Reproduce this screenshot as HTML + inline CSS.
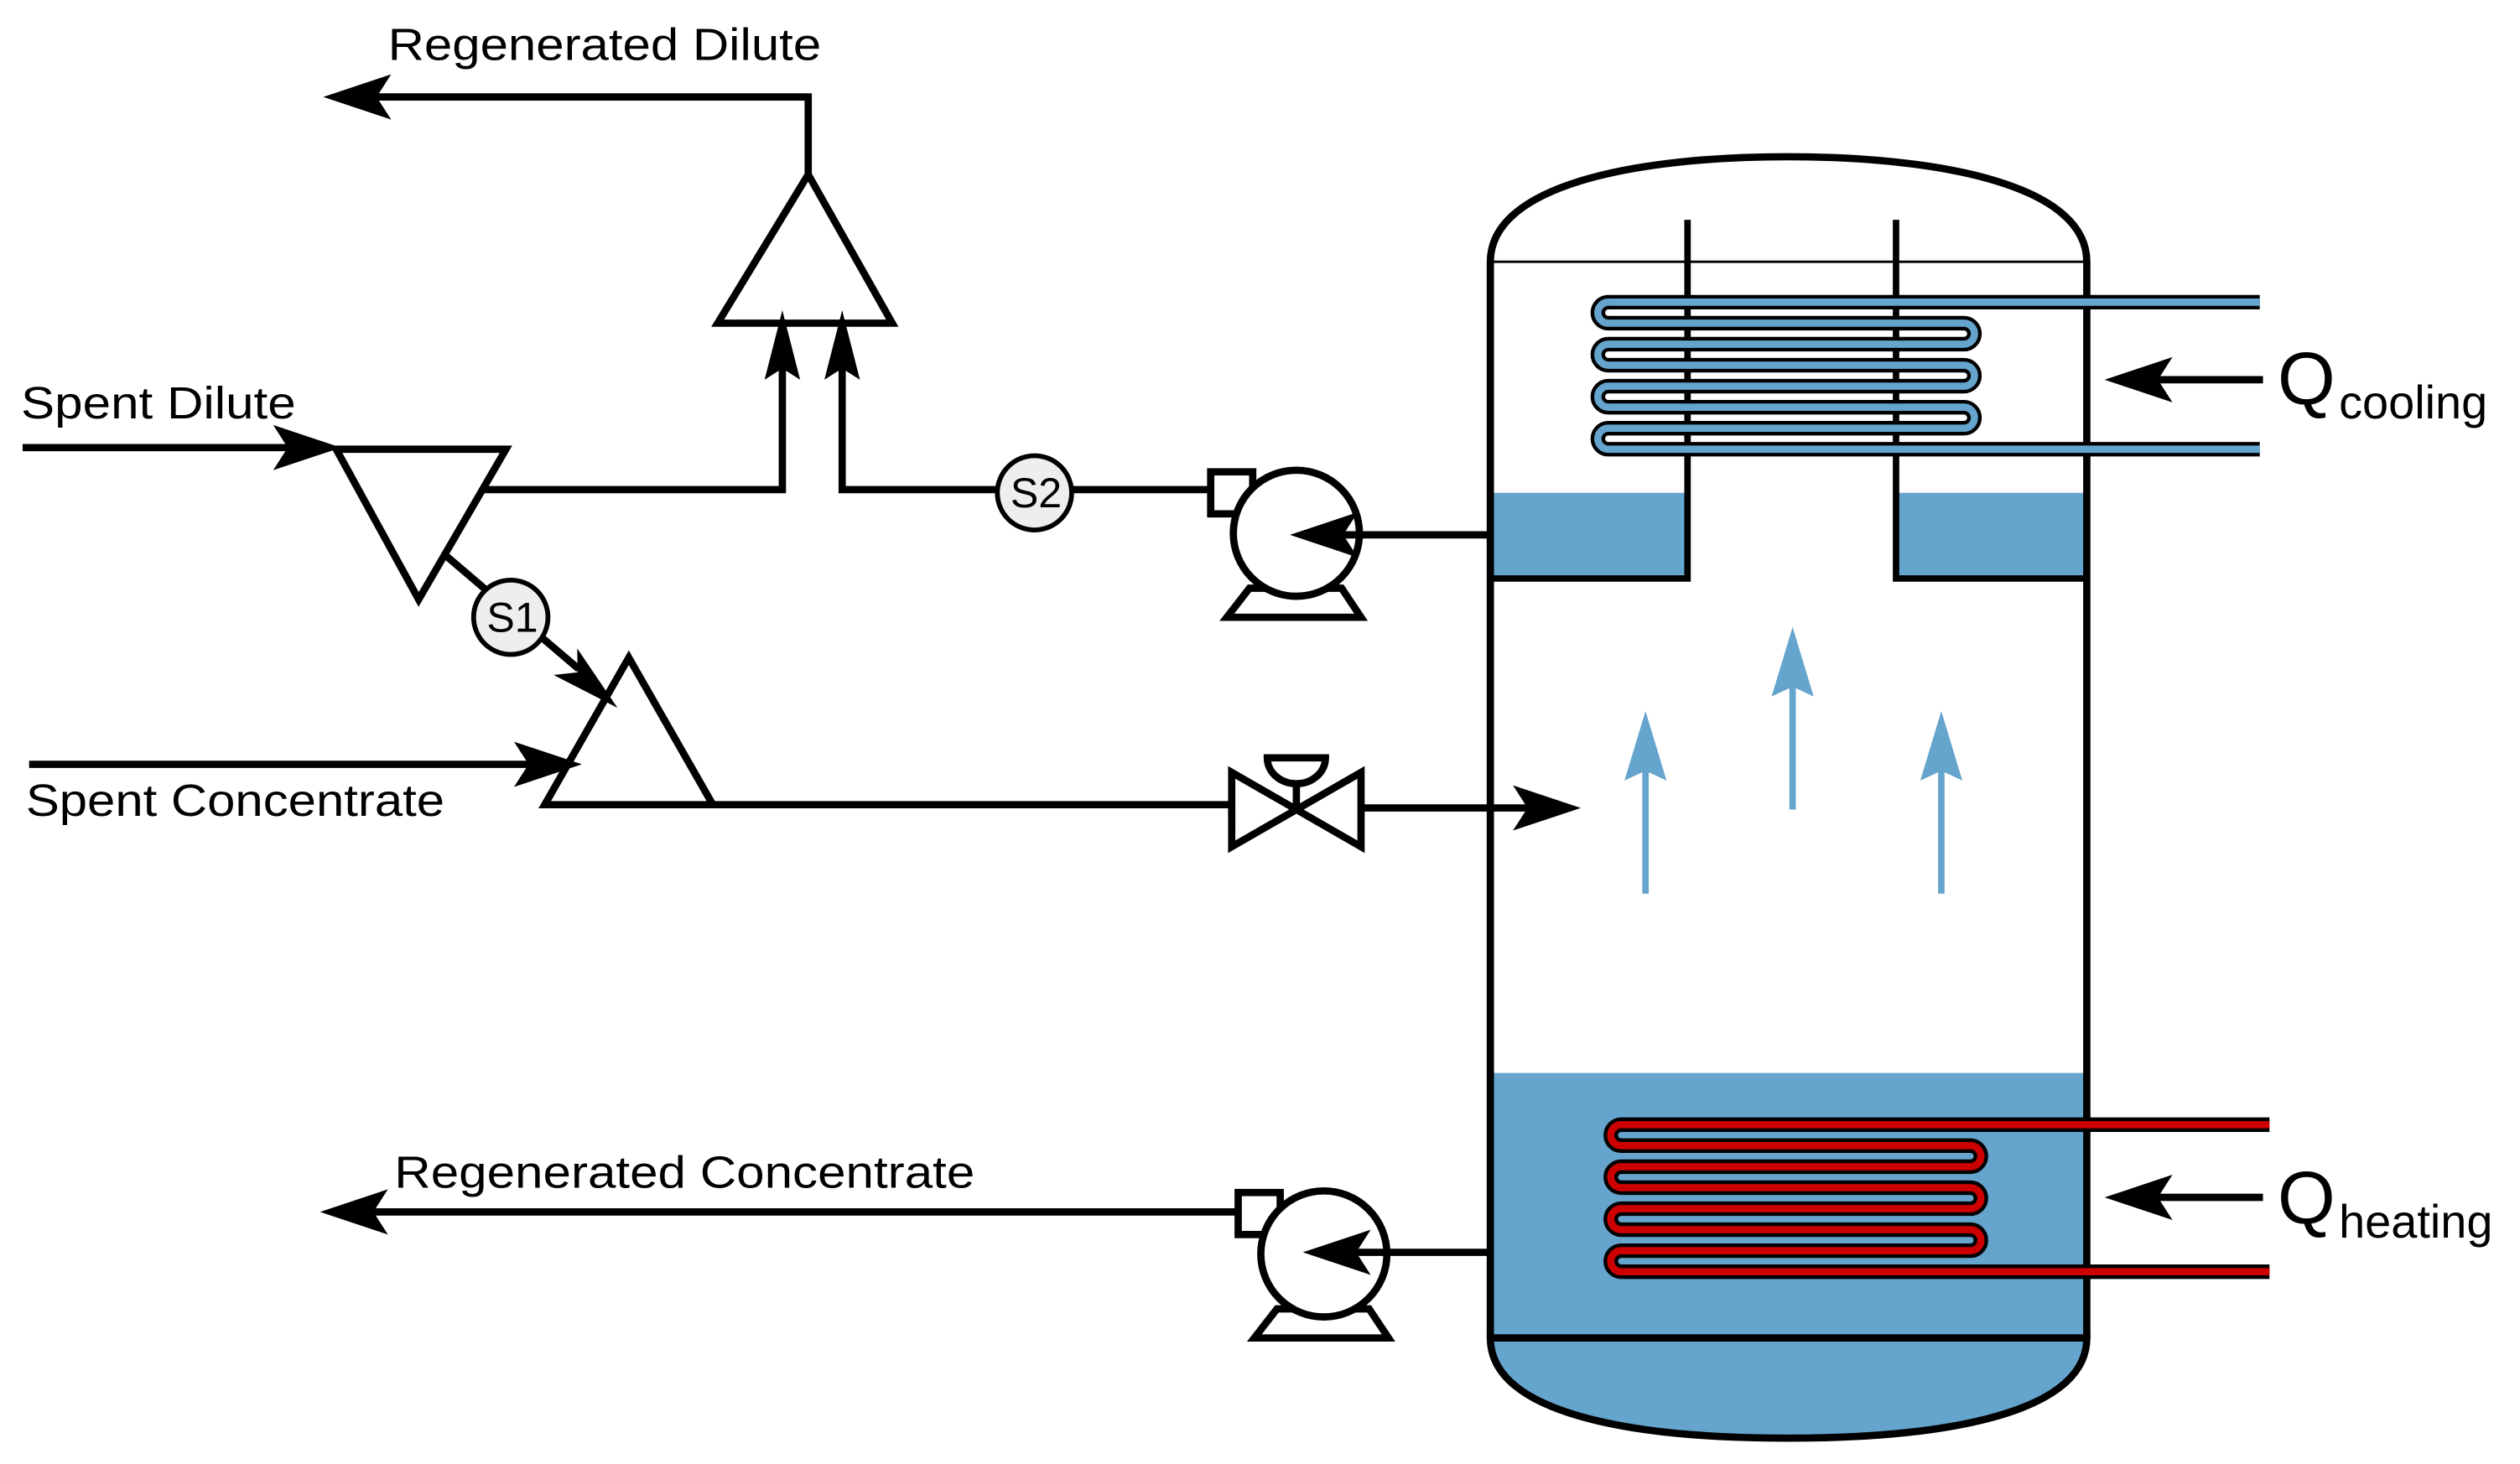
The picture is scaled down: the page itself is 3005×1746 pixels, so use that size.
<!DOCTYPE html>
<html><head><meta charset="utf-8"><style>
html,body{margin:0;padding:0;background:#fff;}
svg{display:block;}
text{font-family:"Liberation Sans",Arial,sans-serif;fill:#000;}
</style></head><body>
<svg width="3005" height="1746" viewBox="0 0 1559 906" preserveAspectRatio="none" xmlns="http://www.w3.org/2000/svg">
<rect x="0" y="0" width="1559" height="906" fill="#fff"/>
<rect x="922" y="305" width="122" height="53" fill="#65a4cc"/>
<rect x="1172" y="305" width="119" height="53" fill="#65a4cc"/>
<rect x="922" y="664" width="369" height="164" fill="#65a4cc"/>
<path d="M922,828 C922,875 1010,890 1106,890 C1202,890 1291,875 1291,828 Z" fill="#65a4cc" stroke="#000" stroke-width="4.5"/>
<path d="M922,828 L922,162 C922,115 1010,97 1106,97 C1202,97 1291,115 1291,162 L1291,828" fill="none" stroke="#000" stroke-width="4.5"/>
<line x1="922" y1="162" x2="1291" y2="162" stroke="#000" stroke-width="1.5"/>
<line x1="922" y1="828" x2="1291" y2="828" stroke="#000" stroke-width="4.5"/>
<path d="M1044,136 V358 H922" fill="none" stroke="#000" stroke-width="4"/>
<path d="M1173,136 V358 H1291" fill="none" stroke="#000" stroke-width="4"/>
<g fill="none" stroke-linejoin="round">
<path d="M1398,187 H995 A6.5,6.5 0 0 0 995,200 H1215 A6.5,6.5 0 0 1 1215,213 H995 A6.5,6.5 0 0 0 995,226 H1215 A6.5,6.5 0 0 1 1215,239 H995 A6.5,6.5 0 0 0 995,252 H1215 A6.5,6.5 0 0 1 1215,265 H995 A6.5,6.5 0 0 0 995,278 H1398" stroke="#000" stroke-width="9"/>
<path d="M1398,187 H995 A6.5,6.5 0 0 0 995,200 H1215 A6.5,6.5 0 0 1 1215,213 H995 A6.5,6.5 0 0 0 995,226 H1215 A6.5,6.5 0 0 1 1215,239 H995 A6.5,6.5 0 0 0 995,252 H1215 A6.5,6.5 0 0 1 1215,265 H995 A6.5,6.5 0 0 0 995,278 H1398" stroke="#65a4cc" stroke-width="4.5"/>
<path d="M1404,696 H1003 A6.5,6.5 0 0 0 1003,709 H1219 A6.5,6.5 0 0 1 1219,722 H1003 A6.5,6.5 0 0 0 1003,735 H1219 A6.5,6.5 0 0 1 1219,748 H1003 A6.5,6.5 0 0 0 1003,761 H1219 A6.5,6.5 0 0 1 1219,774 H1003 A6.5,6.5 0 0 0 1003,787 H1404" stroke="#000" stroke-width="9"/>
<path d="M1404,696 H1003 A6.5,6.5 0 0 0 1003,709 H1219 A6.5,6.5 0 0 1 1219,722 H1003 A6.5,6.5 0 0 0 1003,735 H1219 A6.5,6.5 0 0 1 1219,748 H1003 A6.5,6.5 0 0 0 1003,761 H1219 A6.5,6.5 0 0 1 1219,774 H1003 A6.5,6.5 0 0 0 1003,787 H1404" stroke="#cc0000" stroke-width="4.5"/>
</g>
<g stroke="#65a4cc" stroke-width="4" fill="#65a4cc">
<line x1="1018" y1="553" x2="1018" y2="475"/>
<polygon points="1018,440 1005,483 1018,477 1031,483" stroke="none"/>
<line x1="1109" y1="501" x2="1109" y2="423"/>
<polygon points="1109,388 1096,431 1109,425 1122,431" stroke="none"/>
<line x1="1201" y1="553" x2="1201" y2="475"/>
<polygon points="1201,440 1188,483 1201,477 1214,483" stroke="none"/>
</g>
<g stroke="#000" stroke-width="4.5" fill="#000">
<line x1="1400" y1="235" x2="1335" y2="235"/>
<polygon points="1302,235 1344,221 1335,235 1344,249" stroke="none"/>
<line x1="1400" y1="741" x2="1335" y2="741"/>
<polygon points="1302,741 1344,727 1335,741 1344,755" stroke="none"/>
</g>
<text x="1409" y="250" font-size="46">Q</text><text x="1447" y="259" font-size="29">cooling</text>
<text x="1409" y="757" font-size="46">Q</text><text x="1447" y="766" font-size="29">heating</text>
<g stroke="#000" stroke-width="4.5" fill="none" stroke-linejoin="miter">
<path d="M232,60 H500 V108"/>
<polygon points="500,108 444,200 552,200" fill="#fff"/>
<path d="M298,303 H484 V228"/>
<path d="M660,303 H750"/>
<path d="M521,228 V303 H616"/>
<line x1="14" y1="277" x2="180" y2="277"/>
<polygon points="208,278 313,278 259,371" fill="#fff"/>
<line x1="276" y1="344" x2="358" y2="414"/>
<line x1="18" y1="473" x2="330" y2="473"/>
<polygon points="389,407 337,498 441,498" fill="#fff"/>
<line x1="441" y1="498" x2="762" y2="498"/>
<line x1="842" y1="500" x2="946" y2="500"/>
<line x1="230" y1="750" x2="766" y2="750"/>
<polygon points="762,478 842,524 842,478 762,524" fill="#fff"/>
<line x1="802" y1="501" x2="802" y2="485"/>
<path d="M784,469 H820 A18,16 0 0 1 784,469 Z" fill="#fff"/>
<rect x="749" y="292" width="26" height="26" fill="#fff"/>
<polygon points="773,364 830,364 842,382 759,382" fill="#fff"/>
<circle cx="802" cy="330" r="39" fill="#fff"/>
<rect x="766" y="738" width="26" height="26" fill="#fff"/>
<polygon points="790,810 847,810 859,828 776,828" fill="#fff"/>
<circle cx="819" cy="776" r="39" fill="#fff"/>
<circle cx="640" cy="305" r="23" fill="#eee" stroke-width="3"/>
<circle cx="316" cy="382" r="23" fill="#eee" stroke-width="3"/>
</g>
<line x1="922" y1="331" x2="830" y2="331" stroke="#000" stroke-width="4.5"/>
<line x1="922" y1="775" x2="836" y2="775" stroke="#000" stroke-width="4.5"/>
<g fill="#000">
<polygon points="200,60 242,46 233,60 242,74"/>
<polygon points="484,192 473,235 484,228 495,235"/>
<polygon points="521,192 510,235 521,228 532,235"/>
<polygon points="211,277 169,263 178,277 169,291"/>
<polygon points="382,438 342.5,417.7 357.3,416.1 357.1,401.3"/>
<polygon points="360,473 318,459 327,473 318,487"/>
<polygon points="978,500 936,486 945,500 936,514"/>
<polygon points="798,331 840,317 831,331 840,345"/>
<polygon points="806,775 848,761 839,775 848,789"/>
<polygon points="198,750 240,736 231,750 240,764"/>
</g>
<text x="641" y="314" font-size="26" text-anchor="middle">S2</text>
<text x="317" y="391" font-size="26" text-anchor="middle">S1</text>
<text x="240" y="37" font-size="28" textLength="268" lengthAdjust="spacingAndGlyphs">Regenerated Dilute</text>
<text x="13" y="259" font-size="28" textLength="170" lengthAdjust="spacingAndGlyphs">Spent Dilute</text>
<text x="16" y="505" font-size="28" textLength="259" lengthAdjust="spacingAndGlyphs">Spent Concentrate</text>
<text x="244" y="735" font-size="28" textLength="359" lengthAdjust="spacingAndGlyphs">Regenerated Concentrate</text>
</svg>
</body></html>
